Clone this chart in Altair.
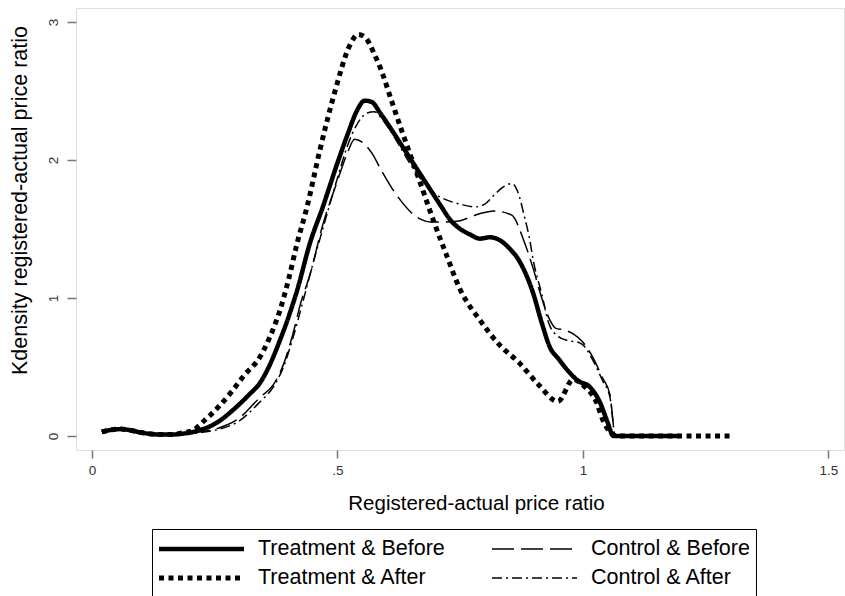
import altair as alt
import pandas as pd

# Kernel density estimates of the registered/actual price ratio, read at irregular x positions
tb_x = [0.02, 0.04, 0.06, 0.08, 0.10, 0.12, 0.14, 0.16, 0.18, 0.20, 0.22, 0.24, 0.26, 0.287, 0.30,
        0.32, 0.342, 0.36, 0.383, 0.40, 0.418, 0.444, 0.47, 0.50, 0.52, 0.54, 0.555, 0.57, 0.587,
        0.61, 0.63, 0.65, 0.67, 0.69, 0.71, 0.73, 0.75, 0.77, 0.79, 0.81, 0.83, 0.85, 0.87, 0.898,
        0.916, 0.933, 0.95, 0.97, 0.99, 1.014, 1.035, 1.05, 1.062, 1.08, 1.12, 1.16, 1.197]
tb_y = [0.03, 0.045, 0.05, 0.04, 0.025, 0.015, 0.01, 0.01, 0.015, 0.025, 0.043, 0.07, 0.11, 0.188, 0.23,
        0.30, 0.384, 0.50, 0.696, 0.86, 1.058, 1.399, 1.659, 1.98, 2.18, 2.36, 2.43, 2.42, 2.34,
        2.22, 2.11, 2.00, 1.89, 1.78, 1.67, 1.565, 1.50, 1.46, 1.43, 1.44, 1.42, 1.36, 1.27, 1.04,
        0.82, 0.64, 0.56, 0.47, 0.40, 0.355, 0.24, 0.10, 0.0, 0.0, 0.0, 0.0, 0.0]

ta_x = [0.02, 0.04, 0.06, 0.08, 0.10, 0.12, 0.14, 0.16, 0.18, 0.205, 0.23, 0.26, 0.287, 0.31, 0.342,
        0.36, 0.383, 0.40, 0.418, 0.438, 0.464, 0.495, 0.525, 0.542, 0.556, 0.576, 0.587, 0.61, 0.63,
        0.65, 0.67, 0.695, 0.72, 0.75, 0.79, 0.83, 0.87, 0.91, 0.949, 0.98, 1.004, 1.028, 1.04,
        1.055, 1.07, 1.10, 1.15, 1.20, 1.25, 1.305]
ta_y = [0.03, 0.045, 0.05, 0.04, 0.025, 0.015, 0.01, 0.01, 0.02, 0.04, 0.116, 0.22, 0.333, 0.44, 0.572,
        0.70, 0.913, 1.13, 1.40, 1.66, 2.07, 2.50, 2.83, 2.91, 2.89, 2.76, 2.67, 2.43, 2.22,
        2.02, 1.82, 1.565, 1.33, 1.06, 0.84, 0.66, 0.53, 0.37, 0.25, 0.41, 0.355, 0.24, 0.12,
        0.03, 0.0, 0.0, 0.0, 0.0, 0.0, 0.0]

cb_x = [0.02, 0.06, 0.10, 0.14, 0.18, 0.22, 0.26, 0.30, 0.342, 0.369, 0.389, 0.41, 0.424, 0.444,
        0.47, 0.50, 0.52, 0.535, 0.55, 0.57, 0.59, 0.61, 0.63, 0.65, 0.67, 0.69, 0.72, 0.75, 0.78,
        0.82, 0.855, 0.878, 0.898, 0.916, 0.93, 0.945, 0.96, 0.98, 1.0, 1.02, 1.04, 1.055, 1.066,
        1.10, 1.15]
cb_y = [0.03, 0.05, 0.025, 0.01, 0.01, 0.03, 0.06, 0.13, 0.28, 0.37, 0.51, 0.75, 0.95, 1.17,
        1.53, 1.85, 2.05, 2.15, 2.13, 2.05, 1.92, 1.80, 1.70, 1.62, 1.57, 1.55, 1.55, 1.56, 1.60,
        1.63, 1.60, 1.43, 1.22, 1.00, 0.86, 0.78, 0.77, 0.74, 0.68, 0.57, 0.42, 0.30, 0.0,
        0.0, 0.0]

ca_x = [0.02, 0.06, 0.10, 0.14, 0.18, 0.22, 0.26, 0.30, 0.34, 0.37, 0.39, 0.41, 0.43, 0.45, 0.47,
        0.50, 0.52, 0.54, 0.56, 0.575, 0.59, 0.61, 0.63, 0.65, 0.67, 0.69, 0.71, 0.73, 0.75, 0.78,
        0.80, 0.82, 0.84, 0.855, 0.87, 0.88, 0.89, 0.90, 0.916, 0.93, 0.95, 0.97, 0.99, 1.0, 1.02,
        1.04, 1.055, 1.066, 1.10, 1.15]
ca_y = [0.03, 0.05, 0.025, 0.01, 0.01, 0.025, 0.05, 0.11, 0.24, 0.36, 0.50, 0.72, 0.98, 1.25, 1.50,
        1.87, 2.10, 2.26, 2.34, 2.35, 2.30, 2.20, 2.08, 1.96, 1.86, 1.78, 1.73, 1.70, 1.68, 1.66,
        1.68, 1.75, 1.81, 1.83, 1.74, 1.60, 1.45, 1.25, 1.03, 0.82, 0.72, 0.69, 0.68, 0.66, 0.55,
        0.40, 0.28, 0.0, 0.0, 0.0]

series_names = ["Treatment & Before", "Treatment & After", "Control & Before", "Control & After"]
series_xy = [(tb_x, tb_y), (ta_x, ta_y), (cb_x, cb_y), (ca_x, ca_y)]
line_widths = [4.5, 5.0, 1.5, 1.5]
dash_styles = [[1, 0], [5, 4.5], [22, 7], [10, 4, 2, 4]]

rows = []
for name, (xs, ys), lw in zip(series_names, series_xy, line_widths):
    for i, (xv, yv) in enumerate(zip(xs, ys)):
        rows.append({"series": name, "ratio": xv, "density": yv, "step": i, "lw": lw})
df = pd.DataFrame(rows)

FONT = "Liberation Sans"

# per-entry stroke width of the legend symbols (parenthesised: Vega splices it into a larger expression)
width_expr = ("(datum.value == 'Treatment & Before' ? 4.5 : "
              "datum.value == 'Treatment & After' ? 5 : 1.5)")

legend = alt.Legend(
    title=None,
    orient="none",
    legendX=76,
    legendY=521,
    columns=2,
    columnPadding=46,
    rowPadding=1,
    padding=6,
    strokeColor="black",
    symbolType="stroke",
    symbolSize=7225,
    clipHeight=28,
    symbolStrokeColor="black",
    symbolStrokeWidth=alt.ExprRef(width_expr),
    labelFont=FONT,
    labelFontSize=21.5,
    labelColor="black",
    labelOffset=13,
    labelLimit=400,
)

chart = (
    alt.Chart(df)
    .mark_line(interpolate="monotone", color="black")
    .encode(
        x=alt.X(
            "ratio:Q",
            scale=alt.Scale(domain=[-0.0326, 1.5316], nice=False, zero=False),
            axis=alt.Axis(
                values=[0, 0.5, 1, 1.5],
                labelExpr="datum.value == 0.5 ? '.5' : datum.value == 1.5 ? '1.5' : format(datum.value, 'd')",
                title="Registered-actual price ratio",
                titleX=400,
                titleY=53,
                titleAlign="center",
                titleBaseline="middle",
                grid=False,
                domain=False,
                tickSize=8,
                tickColor="#777777",
                tickWidth=1.5,
                labelPadding=5,
                labelFont=FONT,
                labelFontSize=13.5,
                labelColor="#333333",
                titleFont=FONT,
                titleFontSize=20.5,
                titleFontWeight="normal",
                titleColor="black",
            ),
        ),
        y=alt.Y(
            "density:Q",
            scale=alt.Scale(domain=[-0.10145, 3.1014], nice=False, zero=False),
            axis=alt.Axis(
                values=[0, 1, 2, 3],
                format="d",
                title="Kdensity registered-actual price ratio",
                titleAngle=270,
                titleX=-56,
                titleY=192,
                titleAlign="center",
                titleBaseline="middle",
                grid=False,
                domain=False,
                tickSize=9,
                tickColor="#777777",
                tickWidth=1.5,
                labelAngle=270,
                labelAlign="center",
                labelBaseline="alphabetic",
                labelPadding=10,
                labelFont=FONT,
                labelFontSize=13.5,
                labelColor="#333333",
                titleFont=FONT,
                titleFontSize=21.5,
                titleFontWeight="normal",
                titleColor="black",
            ),
        ),
        strokeDash=alt.StrokeDash(
            "series:N",
            scale=alt.Scale(domain=series_names, range=dash_styles),
            legend=legend,
        ),
        strokeWidth=alt.StrokeWidth("lw:Q", scale=None, legend=None),
        order="step:Q",
    )
    .properties(
        width=768,
        height=442,
        padding={"left": 76, "top": 8, "right": 1, "bottom": 146},
        autosize=alt.AutoSizeParams(type="none"),
    )
    .configure_view(stroke="black", strokeWidth=1.5)
    .configure(background="white")
)

chart.save("out.html", embed_options={"renderer": "svg", "actions": False})
